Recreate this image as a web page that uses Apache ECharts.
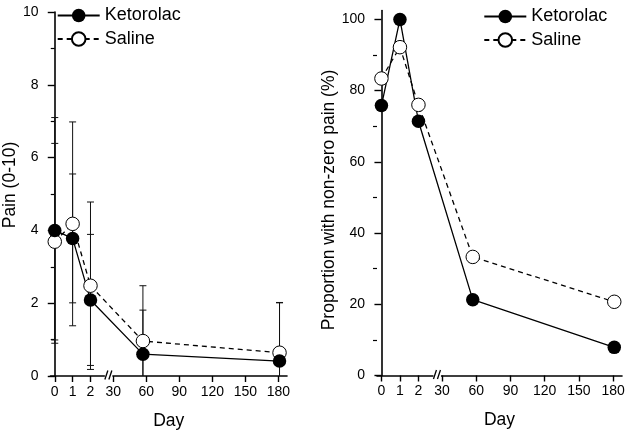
<!DOCTYPE html>
<html>
<head>
<meta charset="utf-8">
<script src="https://cdn.jsdelivr.net/npm/echarts@6/dist/echarts.min.js"></script>
<style>
html,body{margin:0;padding:0;background:#fff;}
#c{width:629px;height:438px;}
</style>
</head>
<body>
<div id="c"></div>
<script>
// ---- data ----
const days = [0, 1, 2, 57, 181];
const tickDays = [0, 1, 2, 30, 60, 90, 120, 150, 180];
const tickLabels = ['0', '1', '2', '30', '60', '90', '120', '150', '180'];
const seriesNames = ['Ketorolac', 'Saline'];
// Left panel: pain (0-10), mean and SD
const painKetorolac = [4.0, 3.78, 2.09, 0.60, 0.41];
const painKetorolacSD = [3.1, 1.77, 1.8, 1.21, 1.6];
const painSaline = [3.69, 4.18, 2.48, 0.96, 0.64];
const painSalineSD = [2.7, 2.8, 2.3, 1.52, 1.38];
// Right panel: proportion with non-zero pain (%)
const propKetorolac = [75.8, 100, 71.4, 21.3, 7.9];
const propSaline = [83.4, 92.2, 76.0, 33.3, 20.7];
const painTicks = [0, 2, 4, 6, 8, 10];
const propTicks = [0, 20, 40, 60, 80, 100];
const propMinorTicks = [10, 30, 50, 70, 90];

// ---- broken x scale: days 0-2 on a wide scale, 30-180 compressed ----
function dayToPos(d) { return d <= 2 ? d : 3.27 + (d - 30) / 30 * 1.85; }
const breakPos = 3.0;
const tickPos = tickDays.map(dayToPos);
function posLabel(v) {
  let best = 0, bd = Infinity;
  tickPos.forEach((p, i) => { const dd = Math.abs(p - v); if (dd < bd) { bd = dd; best = i; } });
  return tickLabels[best];
}

const FONT = 'Liberation Sans';
const BLACK = '#000';

function xAxisCfg(gi) {
  return {
    type: 'value', gridIndex: gi, min: -0.24, max: 13.0,
    name: 'Day', nameLocation: 'middle', nameGap: 36,
    nameTextStyle: { fontFamily: FONT, fontSize: 17.5, color: BLACK },
    axisLine: { show: true, onZero: false, lineStyle: { color: BLACK, width: 1.6 } },
    axisTick: { show: true, customValues: tickPos, length: 6, lineStyle: { color: BLACK, width: 1.4 } },
    axisLabel: { customValues: tickPos, formatter: posLabel, margin: 9, fontFamily: FONT, fontSize: 14, color: BLACK },
    splitLine: { show: false }
  };
}

const lineLabelStyle = { fontFamily: FONT, fontSize: 14, color: BLACK };

function errRender(params, api) {
  const x = api.value(0), lo = api.value(1), hi = api.value(2);
  const a = api.coord([x, lo]), b = api.coord([x, hi]);
  const w = 3.5;
  const st = { stroke: '#111', lineWidth: 1 };
  return {
    type: 'group', children: [
      { type: 'line', shape: { x1: a[0], y1: a[1], x2: b[0], y2: b[1] }, style: st },
      { type: 'line', shape: { x1: a[0] - w, y1: a[1], x2: a[0] + w, y2: a[1] }, style: st },
      { type: 'line', shape: { x1: b[0] - w, y1: b[1], x2: b[0] + w, y2: b[1] }, style: st }
    ]
  };
}

function breakRender(params, api) {
  const p = api.coord([api.value(0), api.value(1)]);
  const cx = p[0], cy = p[1];
  const st = { stroke: BLACK, lineWidth: 1.3 };
  return {
    type: 'group', children: [
      { type: 'rect', shape: { x: cx - 3.5, y: cy - 3, width: 7.5, height: 6 }, style: { fill: '#fff' } },
      { type: 'line', shape: { x1: cx - 3.5, y1: cy + 3.5, x2: cx - 0.5, y2: cy - 5.5 }, style: st },
      { type: 'line', shape: { x1: cx + 0.5, y1: cy + 3.5, x2: cx + 3.5, y2: cy - 5.5 }, style: st }
    ]
  };
}

function lineSeries(name, xi, yi, vals, dashed) {
  return {
    name: name, type: 'line', xAxisIndex: xi, yAxisIndex: yi,
    data: days.map((d, i) => [dayToPos(d), vals[i]]),
    symbol: 'circle', symbolSize: 13.5,
    color: BLACK,
    lineStyle: { color: BLACK, width: 1.3, type: dashed ? [5, 4] : 'solid' },
    itemStyle: dashed ? { color: '#fff', borderColor: BLACK, borderWidth: 1 } : { color: BLACK, borderColor: BLACK, borderWidth: 0 },
    z: 5, silent: true, animation: false
  };
}

function errSeries(name, vals, sds) {
  return {
    name: name, type: 'custom', xAxisIndex: 0, yAxisIndex: 0, clip: true,
    renderItem: errRender,
    data: days.map((d, i) => [dayToPos(d), vals[i] - sds[i], vals[i] + sds[i]]),
    encode: { x: 0, y: [1, 2] }, z: 3, silent: true, animation: false
  };
}

function breakSeries(xi, yi) {
  return {
    name: 'break' + xi, type: 'custom', xAxisIndex: xi, yAxisIndex: yi, clip: false,
    renderItem: breakRender, data: [[breakPos, 0]], z: 10, silent: true, animation: false
  };
}

function legendCfg(left, top) {
  return {
    data: seriesNames, orient: 'vertical', left: left, top: top, padding: 0,
    itemWidth: 42, itemHeight: 17, itemGap: 5.5,
    textStyle: { fontFamily: FONT, fontSize: 18, color: BLACK },
    selectedMode: false
  };
}

const option = {
  animation: false,
  backgroundColor: '#fff',
  grid: [
    { left: 50, top: 12, width: 237, height: 364 },
    { left: 377, top: 10.5, width: 245, height: 365 }
  ],
  legend: [legendCfg(56.7, 6.5), legendCfg(483.3, 7.5)],
  xAxis: [xAxisCfg(0), xAxisCfg(1)],
  yAxis: [
    {
      type: 'value', gridIndex: 0, min: 0, max: 10, interval: 2,
      name: 'Pain (0-10)', nameLocation: 'middle', nameGap: 27,
      nameTextStyle: { fontFamily: FONT, fontSize: 17.5, color: BLACK, padding: [0, 0, 0, 18] },
      axisLine: { show: true, lineStyle: { color: BLACK, width: 1.6 } },
      axisTick: { show: true, length: 7, lineStyle: { color: BLACK, width: 1.4 } },
      minorTick: { show: true, splitNumber: 2, length: 4, lineStyle: { color: BLACK, width: 1.2 } },
      axisLabel: Object.assign({ margin: 12, customValues: painTicks }, lineLabelStyle),
      splitLine: { show: false }
    },
    {
      type: 'value', gridIndex: 1, min: 0, max: 102.5,
      name: 'Proportion with non-zero pain (%)', nameLocation: 'middle', nameGap: 38,
      nameTextStyle: { fontFamily: FONT, fontSize: 17.5, color: BLACK, padding: [0, 14, 0, 0] },
      axisLine: { show: true, lineStyle: { color: BLACK, width: 1.6 } },
      axisTick: { show: true, customValues: propTicks, length: 7, lineStyle: { color: BLACK, width: 1.4 } },
      axisLabel: Object.assign({ margin: 12, customValues: propTicks }, lineLabelStyle),
      splitLine: { show: false }
    },
    {
      type: 'value', gridIndex: 1, min: 0, max: 102.5, position: 'left',
      axisLine: { show: false },
      axisTick: { show: true, customValues: propMinorTicks, length: 4, lineStyle: { color: BLACK, width: 1.2 } },
      axisLabel: { show: false },
      splitLine: { show: false }
    }
  ],
  series: [
    errSeries('Ketorolac SD', painKetorolac, painKetorolacSD),
    errSeries('Saline SD', painSaline, painSalineSD),
    lineSeries('Saline', 0, 0, painSaline, true),
    lineSeries('Ketorolac', 0, 0, painKetorolac, false),
    lineSeries('Saline', 1, 1, propSaline, true),
    lineSeries('Ketorolac', 1, 1, propKetorolac, false),
    breakSeries(0, 0),
    breakSeries(1, 1)
  ]
};

const chart = echarts.init(document.getElementById('c'), null, { renderer: 'canvas' });
chart.setOption(option);
</script>
</body>
</html>
